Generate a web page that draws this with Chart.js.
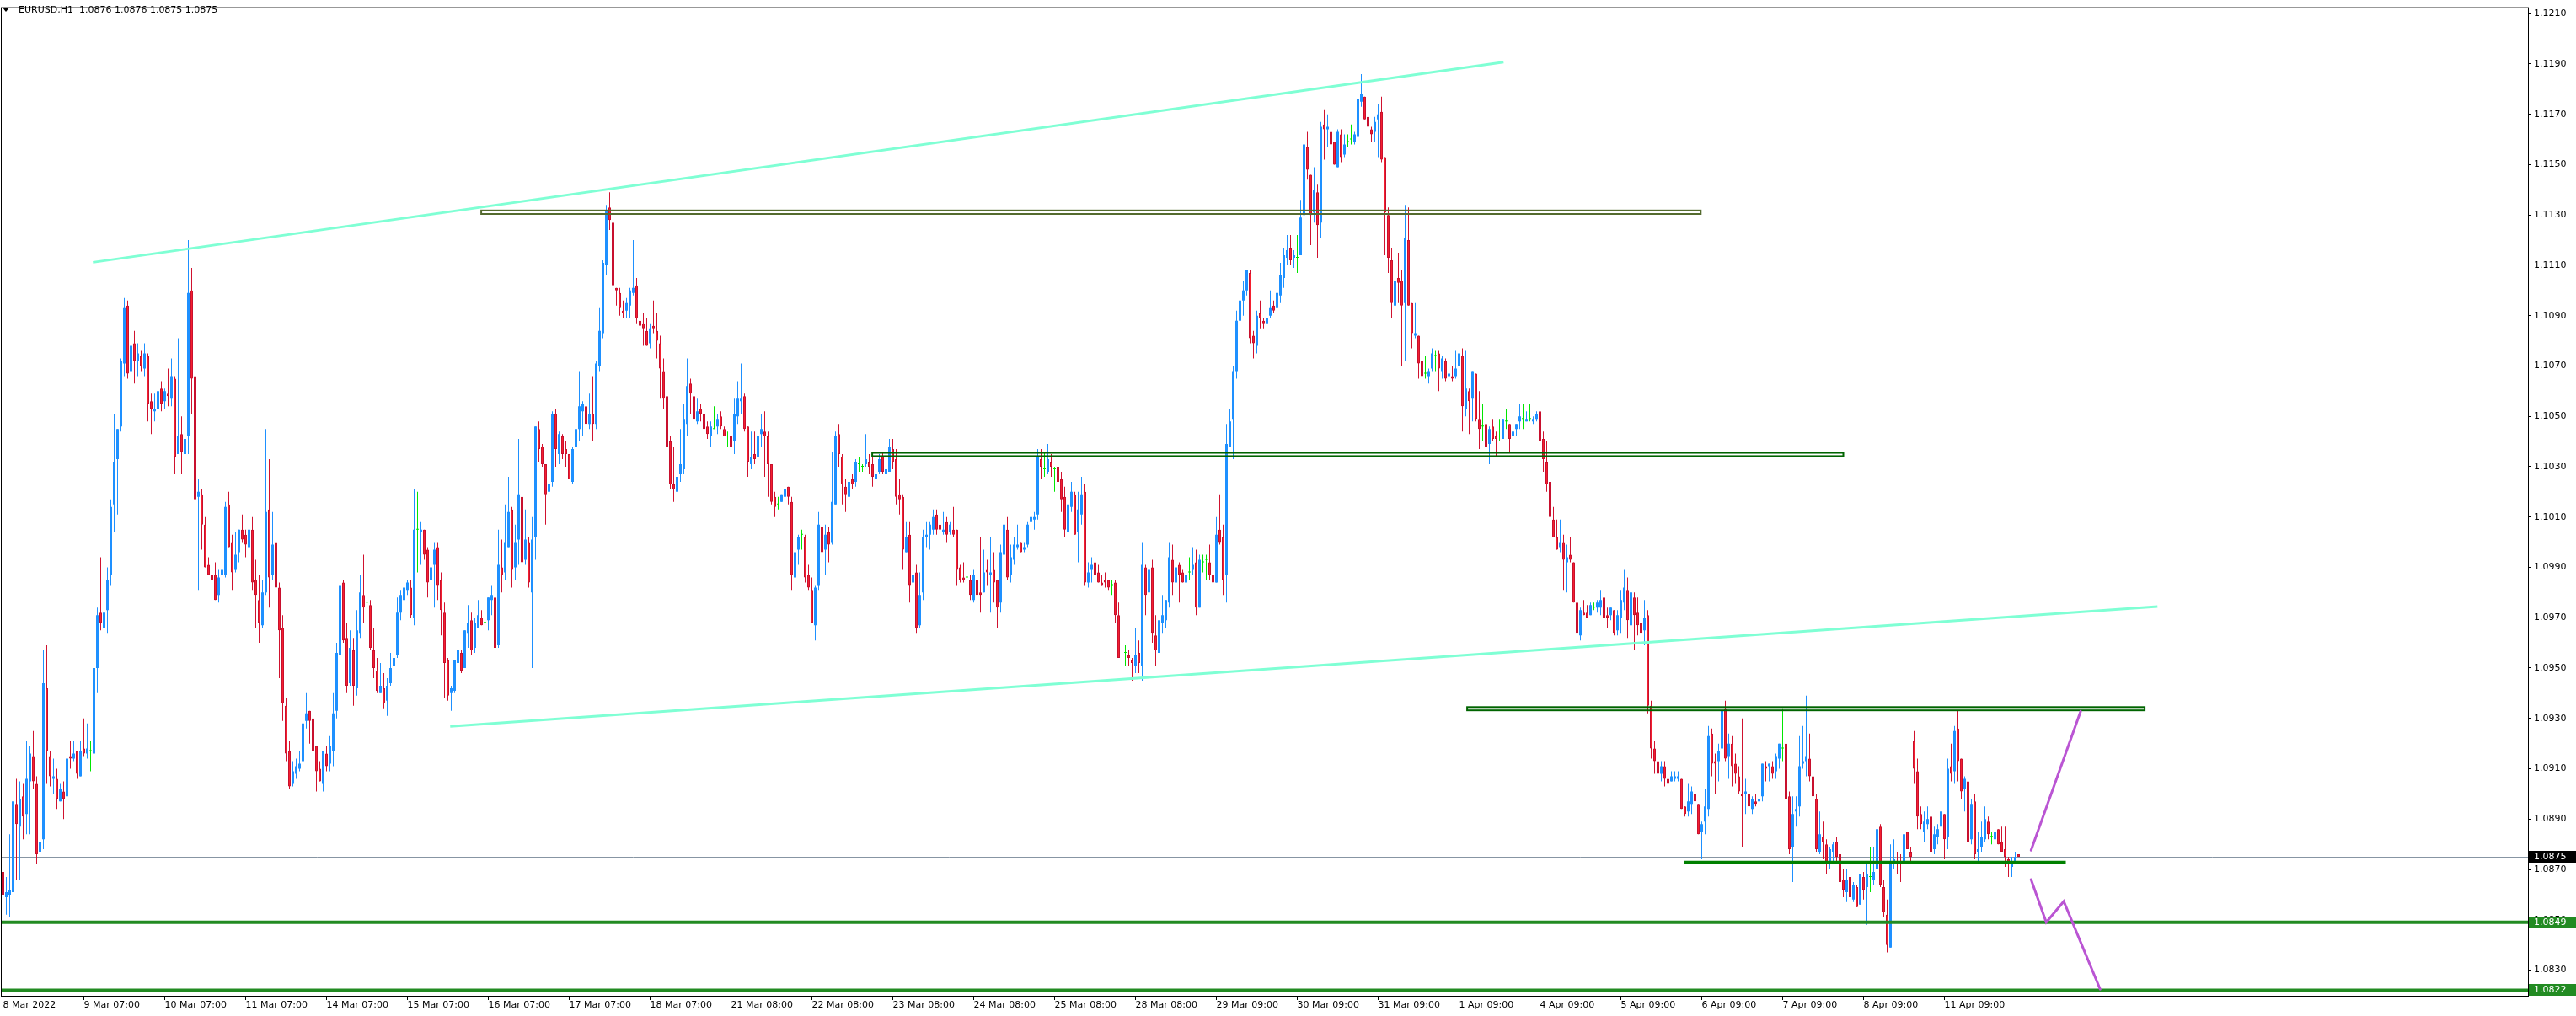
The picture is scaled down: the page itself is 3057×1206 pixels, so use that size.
<!DOCTYPE html>
<html>
<head>
<meta charset="utf-8">
<title>EURUSD,H1</title>
<script src="https://cdn.jsdelivr.net/npm/chart.js@4.4.1/dist/chart.umd.min.js"></script>
<style>
  html, body { margin: 0; padding: 0; background: #fff; }
  #wrap { width: 3057px; height: 1206px; }
</style>
</head>
<body>
<div id="wrap"><canvas id="myChart" width="3057" height="1206"></canvas></div>
<script>
// EURUSD H1 bars, 8 Mar - 12 Apr 2022, values in pips above 1.0800
const base = 1.08;
const pip = 0.0001;

const opens = [
  69,59,60,61,96,87,99,92,105,115,104,77,82,142,115,106,106,97,101,99,115,114,117,107,
  118,116,117,116,150,172,166,173,187,215,233,246,271,294,268,279,272,274,269,274,256,252,253,261,
  256,259,257,265,235,243,235,242,300,266,218,219,207,191,187,187,179,187,187,215,200,189,196,205,
  203,198,205,185,177,167,180,213,187,200,182,166,135,117,104,108,110,113,129,133,130,119,110,104,
  116,112,117,133,155,184,162,144,157,142,164,179,176,175,157,149,140,142,137,144,151,155,172,177,
  181,182,170,205,204,205,197,185,191,198,185,172,153,140,141,152,156,150,164,169,158,166,170,168,
  169,177,178,159,190,188,198,213,190,201,218,193,200,180,202,245,238,231,220,224,251,235,242,237,
  235,224,238,245,252,254,247,251,247,270,283,310,333,327,301,299,292,292,294,299,302,288,287,284,
  279,286,284,279,268,258,240,223,220,227,229,247,263,258,248,253,251,246,242,245,246,250,245,242,
  242,240,250,256,258,246,231,235,234,243,244,242,231,218,215,216,218,222,216,186,197,203,202,187,
  181,167,183,206,197,204,200,215,243,234,222,218,225,224,231,230,231,232,231,225,228,234,227,228,
  237,233,219,218,196,203,184,188,167,180,202,203,205,211,207,204,208,204,205,205,190,186,186,185,
  177,185,180,180,189,187,189,185,176,195,205,187,193,198,200,197,199,208,209,211,233,229,228,232,
  229,230,225,218,204,214,219,204,211,220,184,189,192,188,184,185,185,183,184,171,155,156,155,153,
  151,156,151,190,180,190,163,156,168,169,176,193,184,191,188,184,188,189,192,174,192,193,192,187,
  184,205,202,187,238,249,268,288,296,300,307,282,278,291,288,287,290,294,293,298,305,313,317,313,
  313,314,330,357,346,331,339,327,366,364,363,359,349,362,354,359,360,359,361,375,377,369,364,363,
  368,371,353,330,312,294,305,304,295,320,295,282,282,272,267,266,269,274,275,268,272,266,266,266,
  270,274,253,260,257,267,249,246,247,239,246,242,240,241,248,247,242,245,248,249,248,249,248,249,
  252,241,232,224,209,202,198,200,192,195,192,176,163,172,172,171,174,174,174,178,171,171,173,165,
  170,176,181,167,178,172,168,165,171,135,118,113,108,111,106,105,106,106,106,95,93,96,100,96,
  85,89,94,124,113,113,118,134,115,120,112,107,100,100,100,94,97,97,99,111,111,111,109,114,
  118,120,99,79,93,95,112,113,114,107,98,77,83,80,72,77,81,76,66,61,67,58,63,56,
  67,63,67,66,70,87,63,52,39,72,73,73,73,85,77,121,109,92,85,88,91,78,83,87,
  92,83,111,109,126,114,102,105,82,97,77,79,82,89,83,82,86,81,78,74,71,73,76
];

const highs = [
  71,67,84,123,106,105,104,121,119,125,107,93,157,159,117,114,110,104,105,114,121,121,117,121,
  130,128,121,156,174,194,173,190,217,251,245,273,297,296,281,284,279,276,279,275,259,259,260,264,
  261,269,273,266,281,250,254,320,309,271,225,221,210,194,195,192,189,193,216,220,203,204,205,211,
  205,209,210,193,187,185,245,233,212,203,184,171,138,121,113,114,117,137,140,133,137,119,113,117,
  119,123,140,160,191,185,168,165,162,173,187,195,180,177,166,154,152,148,146,156,156,178,181,187,
  185,185,221,220,208,205,198,205,200,200,188,176,154,143,153,157,157,165,175,172,170,177,173,170,
  178,183,181,205,201,215,226,214,207,241,224,213,202,210,246,248,239,231,226,252,253,244,243,240,
  235,238,247,268,256,255,259,266,272,293,312,334,339,328,301,301,296,297,301,320,305,291,291,289,
  287,296,291,282,273,261,242,238,227,245,255,273,265,259,257,255,257,248,248,254,251,252,246,244,
  247,257,264,271,259,246,244,244,246,251,252,244,231,220,218,219,226,222,218,197,203,205,203,191,
  186,183,212,215,207,206,236,244,247,235,225,231,227,233,234,231,243,235,234,233,235,236,230,241,
  241,237,225,219,208,208,195,191,188,205,208,208,213,213,211,212,210,208,214,205,191,192,188,187,
  189,187,202,197,193,202,196,185,199,215,210,199,202,207,200,200,208,211,212,237,237,236,239,235,
  230,232,228,222,217,224,220,220,226,223,192,194,197,191,187,188,185,185,185,176,162,159,157,154,
  166,161,200,191,191,193,171,174,179,177,200,199,191,192,189,187,194,198,197,195,195,195,199,188,
  210,219,207,247,253,270,292,300,304,308,308,284,292,296,289,291,300,296,299,311,317,322,322,316,
  322,336,358,363,346,349,342,367,372,370,367,359,364,364,362,362,366,363,376,386,377,371,365,369,
  374,377,353,333,317,310,315,308,334,333,295,295,282,277,274,269,277,276,276,274,273,270,270,276,
  277,277,276,261,268,267,260,255,250,246,249,244,249,249,253,247,245,247,255,255,252,255,250,252,
  255,244,240,233,214,209,209,203,199,202,192,178,174,177,175,176,176,177,181,178,174,174,173,173,
  181,189,186,186,180,178,173,177,173,137,121,116,113,113,108,109,109,109,106,95,104,103,102,96,
  89,102,127,126,116,120,139,137,124,123,116,111,130,106,102,99,100,100,112,113,112,113,116,120,
  134,120,101,99,99,123,127,139,124,110,100,93,89,82,79,81,83,77,70,70,70,65,64,68,
  69,72,79,79,92,88,66,58,80,82,77,76,85,85,79,125,114,95,93,95,91,87,88,95,
  92,114,120,127,133,114,107,106,98,100,85,89,95,91,85,86,86,87,87,75,75,77,76
];

const lows = [
  56,52,51,55,66,66,82,84,84,102,72,75,78,104,103,100,94,97,90,97,110,113,106,107,
  115,114,109,111,140,165,142,164,183,204,211,244,266,265,263,263,266,268,266,248,243,248,247,252,
  253,254,254,227,235,227,231,235,251,200,181,197,190,187,183,177,176,183,186,198,181,188,192,200,
  194,197,181,166,160,166,179,174,185,173,146,129,113,102,103,106,109,111,126,120,113,101,105,101,
  109,109,111,130,152,160,140,143,135,139,162,168,164,157,146,140,140,134,131,143,138,154,169,176,
  179,170,167,188,191,193,178,185,174,177,163,138,137,133,140,142,148,150,158,155,156,166,167,166,
  165,171,156,158,180,185,198,182,185,191,190,191,182,150,193,232,230,207,216,222,230,231,233,230,
  225,223,230,240,242,224,245,240,245,268,281,306,324,300,294,290,289,289,289,298,287,283,278,278,
  277,283,273,257,253,232,221,216,203,224,227,242,251,242,247,248,243,241,238,245,243,245,242,238,
  235,235,247,251,244,226,229,231,229,238,226,218,215,210,213,216,218,215,181,185,191,197,184,181,
  168,161,181,192,187,192,199,215,230,215,212,215,221,222,228,228,230,227,222,222,227,227,225,228,
  229,215,211,189,196,176,182,164,166,177,198,197,203,203,201,203,200,203,202,183,184,184,180,177,
  176,176,172,180,183,172,176,166,172,194,185,184,191,197,196,196,198,205,205,209,225,226,227,226,
  220,222,212,202,202,212,203,192,207,183,182,184,184,184,183,182,181,179,168,154,151,151,151,145,
  148,148,145,171,174,160,151,147,164,166,174,179,179,176,184,183,185,187,171,174,188,185,185,179,
  184,199,179,176,238,233,265,283,290,298,279,273,275,285,285,284,289,291,289,295,301,310,310,309,
  307,314,316,344,318,327,313,321,352,357,353,350,349,351,353,357,358,358,358,373,368,363,359,359,
  353,351,314,307,289,294,295,270,272,294,277,281,265,263,265,263,268,268,260,265,264,263,264,265,
  252,244,250,243,248,248,237,240,228,231,240,234,240,241,245,236,239,242,245,245,248,248,247,248,
  237,228,220,209,202,197,196,181,180,192,176,163,161,171,170,171,173,172,171,169,166,169,163,163,
  164,173,162,167,157,163,157,159,132,114,108,104,105,103,103,105,105,105,94,91,91,92,93,84,
  74,84,91,107,100,105,118,113,106,103,104,100,79,92,94,92,95,96,97,105,105,106,106,110,
  113,98,76,65,87,91,110,107,105,95,77,76,74,68,70,73,73,61,59,57,57,57,55,56,
  58,48,61,64,68,63,51,37,39,70,68,65,70,78,72,104,86,86,81,86,75,76,80,82,
  74,78,105,104,105,98,93,79,80,74,73,77,81,82,80,81,80,77,71,67,67,72,75
];

const closes = [
  60,61,62,97,88,98,91,106,116,105,76,81,144,117,107,107,98,102,98,114,114,116,108,117,
  116,118,117,150,171,168,172,185,214,232,245,272,293,267,278,272,275,270,275,255,253,253,260,255,
  260,258,266,234,242,236,241,299,265,217,220,207,190,187,185,177,186,189,214,198,188,195,205,201,
  199,205,184,179,168,180,212,186,199,182,165,136,116,103,109,111,112,128,132,129,117,109,105,117,
  111,119,132,156,183,161,143,158,143,165,180,174,176,158,150,141,143,136,143,150,154,172,179,182,
  184,171,205,205,205,195,184,190,197,183,173,152,139,142,153,157,149,165,168,157,168,171,167,168,
  178,179,158,191,187,200,212,189,200,219,192,201,184,201,246,237,231,219,223,251,237,243,235,235,
  225,237,245,254,255,247,251,247,271,284,311,332,328,302,300,293,291,295,300,301,289,286,285,278,
  285,285,280,269,257,238,223,221,226,231,249,262,259,249,252,251,245,243,246,245,249,246,242,242,
  238,251,257,257,245,232,234,233,242,245,242,231,216,214,215,219,221,218,187,196,202,203,186,182,
  168,182,207,196,203,199,216,242,235,223,219,224,223,232,231,230,233,230,226,227,233,228,229,238,
  232,218,217,197,202,183,187,166,179,202,203,207,210,205,205,205,203,207,203,189,185,185,186,179,
  187,179,179,188,188,188,184,174,196,207,186,194,199,199,196,198,207,210,210,234,230,229,233,230,
  229,224,217,205,215,220,203,213,219,184,188,191,187,184,183,184,182,183,171,154,155,156,154,152,
  155,152,191,179,189,164,157,169,171,177,194,184,190,187,184,187,188,191,174,193,192,193,187,184,
  203,200,185,239,248,268,288,296,300,308,281,279,290,289,287,289,293,292,299,306,314,316,312,314,
  313,329,358,348,330,340,326,365,364,365,358,350,363,353,358,359,360,362,376,378,368,365,362,367,
  370,352,331,313,295,304,303,294,321,294,283,283,271,266,267,268,275,274,269,273,265,267,265,269,
  275,254,261,256,268,249,245,246,238,245,241,241,240,249,248,241,244,247,250,249,249,249,249,251,
  240,233,223,210,202,197,200,193,194,193,176,164,173,171,170,175,174,176,177,170,170,174,164,171,
  177,182,169,180,171,167,164,170,135,118,113,108,111,106,104,107,107,107,94,92,97,101,97,84,
  88,95,123,112,112,117,133,114,120,111,108,101,99,101,95,98,96,98,112,110,112,108,115,120,
  118,98,78,92,94,111,113,115,107,99,78,84,81,72,78,80,75,65,62,66,59,64,55,68,
  62,68,67,69,86,64,53,40,73,74,72,72,84,78,75,110,91,88,89,90,77,84,86,93,
  82,110,108,125,113,101,106,81,96,76,78,83,90,84,83,85,80,77,75,72,72,75,75
];

// time axis: one label every 24 bars
const dayLabels = [
  '8 Mar 2022', '9 Mar 07:00', '10 Mar 07:00', '11 Mar 07:00', '14 Mar 07:00',
  '15 Mar 07:00', '16 Mar 07:00', '17 Mar 07:00', '18 Mar 07:00', '21 Mar 08:00',
  '22 Mar 08:00', '23 Mar 08:00', '24 Mar 08:00', '25 Mar 08:00', '28 Mar 08:00',
  '29 Mar 09:00', '30 Mar 09:00', '31 Mar 09:00', '1 Apr 09:00', '4 Apr 09:00',
  '5 Apr 09:00', '6 Apr 09:00', '7 Apr 09:00', '8 Apr 09:00', '11 Apr 09:00'
];
const barsPerLabel = 24;

const priceTicks = [
  1.0830, 1.0850, 1.0870, 1.0890, 1.0910, 1.0930, 1.0950, 1.0970, 1.0990, 1.1010,
  1.1030, 1.1050, 1.1070, 1.1090, 1.1110, 1.1130, 1.1150, 1.1170, 1.1190, 1.1210
];

// drawn objects: x in bar numbers, y in prices
const channelTop = [[26.7, 1.11112], [445.2, 1.11907]];
const channelBottom = [[132.7, 1.09268], [639.2, 1.09744]];
const zoneBoxes = [
  [141.9, 503.7, 1.11304, 1.11318],
  [257.9, 546.0, 1.10342, 1.10355],
  [434.4, 635.4, 1.09332, 1.09345]
];
const supportSegment = [[498.7, 1.08728], [612.0, 1.08728]];
const levelPrices = [1.0849, 1.0822];
const bidPrice = 1.0875;
const pathUp = [[601.7, 1.08776], [616.4, 1.09328]];
const pathDown = [[601.7, 1.0866], [606.2, 1.0849], [611.4, 1.08573], [622.2, 1.08224]];

const toPrice = v => +(base + v * pip).toFixed(5);
const n = closes.length;

const bodies = [];
const wicks = [];
for (let i = 0; i < n; i++) {
  bodies.push({ x: i, y: [toPrice(opens[i]), toPrice(closes[i])] });
  wicks.push({ x: i, y: [toPrice(lows[i]), toPrice(highs[i])] });
}

function pick(i, up, down, flat) {
  if (closes[i] > opens[i]) return up;
  if (closes[i] < opens[i]) return down;
  return flat;
}

function strokePath(chart, pts, color, width) {
  const { ctx, scales: { x, y } } = chart;
  ctx.beginPath();
  pts.forEach(([i, p], k) => {
    const X = x.getPixelForValue(i);
    const Y = y.getPixelForValue(p);
    if (k) ctx.lineTo(X, Y); else ctx.moveTo(X, Y);
  });
  ctx.strokeStyle = color;
  ctx.lineWidth = width;
  ctx.stroke();
}

function priceTag(chart, price, bg) {
  const { ctx, chartArea: a, scales: { y } } = chart;
  const Y = Math.round(y.getPixelForValue(price));
  ctx.fillStyle = bg;
  ctx.fillRect(a.right + 1, Y - 7, chart.width - a.right - 1, 14);
  ctx.fillStyle = '#fff';
  ctx.font = '11px "DejaVu Sans"';
  ctx.textAlign = 'left';
  ctx.textBaseline = 'middle';
  ctx.fillText(price.toFixed(4), a.right + 7, Y + 0.5);
}

const chartObjects = {
  id: 'chartObjects',
  beforeDatasetsDraw(chart) {
    const { ctx, chartArea: a, scales: { y } } = chart;
    ctx.save();
    const Y = Math.round(y.getPixelForValue(bidPrice)) + 0.5;
    ctx.beginPath();
    ctx.moveTo(a.left, Y);
    ctx.lineTo(a.right, Y);
    ctx.strokeStyle = '#8795a3';
    ctx.lineWidth = 1;
    ctx.stroke();
    ctx.restore();
  },
  afterDatasetsDraw(chart) {
    const { ctx, chartArea: a, scales: { x, y } } = chart;
    ctx.save();
    ctx.beginPath();
    ctx.rect(a.left, a.top, a.right - a.left, a.bottom - a.top);
    ctx.clip();

    strokePath(chart, channelTop, '#7fffd4', 3);
    strokePath(chart, channelBottom, '#7fffd4', 3);

    zoneBoxes.forEach(([i0, i1, p0, p1], k) => {
      const x0 = x.getPixelForValue(i0), x1 = x.getPixelForValue(i1);
      const y0 = y.getPixelForValue(p1), y1 = y.getPixelForValue(p0);
      ctx.strokeStyle = k === 0 ? '#556b2f' : '#006400';
      ctx.lineWidth = 2;
      ctx.strokeRect(x0, y0, x1 - x0, y1 - y0);
    });

    levelPrices.forEach(p => {
      strokePath(chart, [[x.min, p], [x.max, p]], '#228b22', 4);
    });
    strokePath(chart, supportSegment, '#008000', 4);

    ctx.lineCap = 'round';
    strokePath(chart, pathUp, '#ba55d3', 3);
    strokePath(chart, pathDown, '#ba55d3', 3);
    ctx.restore();
  },
  afterDraw(chart) {
    const { ctx, chartArea: a } = chart;
    ctx.save();
    priceTag(chart, bidPrice, '#000');
    levelPrices.forEach(p => priceTag(chart, p, '#228b22'));

    ctx.strokeStyle = '#000';
    ctx.lineWidth = 1;
    ctx.strokeRect(a.left - 0.5, a.top - 0.5, a.right - a.left + 1, a.bottom - a.top + 1);

    // symbol header
    ctx.fillStyle = '#000';
    ctx.beginPath();
    ctx.moveTo(3, 9);
    ctx.lineTo(11, 9);
    ctx.lineTo(7, 14);
    ctx.closePath();
    ctx.fill();
    const last = n - 1;
    const quote = [opens[last], highs[last], lows[last], closes[last]]
      .map(v => (base + v * pip).toFixed(4)).join(' ');
    ctx.font = '11px "DejaVu Sans"';
    ctx.textAlign = 'left';
    ctx.textBaseline = 'middle';
    ctx.fillText('EURUSD,H1  ' + quote, 22, 12);
    ctx.restore();
  }
};

Chart.defaults.font.family = '"DejaVu Sans", sans-serif';
Chart.defaults.font.size = 11;
Chart.defaults.color = '#000';

const data = {
  datasets: [
    {
      label: 'body',
      data: bodies,
      order: 0,
      grouped: false,
      barThickness: 3,
      minBarLength: 1,
      inflateAmount: 0,
      borderSkipped: false,
      borderWidth: c => (pick(c.dataIndex, 0, 1, 0)),
      borderColor: c => pick(c.dataIndex, '#1e90ff', '#c8102e', '#00e600'),
      backgroundColor: c => pick(c.dataIndex, '#1e90ff', '#f4202f', '#00e600')
    },
    {
      label: 'wick',
      data: wicks,
      order: 1,
      grouped: false,
      barThickness: 1,
      minBarLength: 1,
      inflateAmount: 0,
      borderWidth: 0,
      backgroundColor: c => pick(c.dataIndex, '#1e90ff', '#d0122f', '#00e600')
    }
  ]
};

const config = {
  type: 'bar',
  data: data,
  options: {
    responsive: false,
    animation: false,
    layout: { padding: { left: 2, top: 1, right: 0, bottom: 0 } },
    plugins: { legend: { display: false }, tooltip: { enabled: false } },
    scales: {
      x: {
        type: 'linear',
        min: -0.375,
        max: 749.125,
        offset: false,
        border: { display: false },
        grid: { offset: false, drawOnChartArea: false, drawTicks: true, tickLength: 5, color: '#000' },
        afterBuildTicks: s => { s.ticks = dayLabels.map((_, k) => ({ value: k * barsPerLabel })); },
        afterFit: s => { s.height = 24; },
        ticks: {
          autoSkip: false,
          maxRotation: 0,
          minRotation: 0,
          align: 'start',
          padding: 0,
          callback: v => dayLabels[Math.round(v / barsPerLabel)]
        }
      },
      y: {
        type: 'linear',
        position: 'right',
        min: 1.08198,
        max: 1.12122,
        border: { display: false },
        grid: { drawOnChartArea: false, drawTicks: true, tickLength: 4, color: '#000' },
        afterBuildTicks: s => { s.ticks = priceTicks.map(v => ({ value: v })); },
        afterFit: s => { s.width = 57; },
        ticks: {
          autoSkip: false,
          padding: 3,
          callback: v => v.toFixed(4)
        }
      }
    }
  },
  plugins: [chartObjects]
};

const canvasElement = document.getElementById('myChart');
const myChart = new Chart(canvasElement, config);
</script>
</body>
</html>
